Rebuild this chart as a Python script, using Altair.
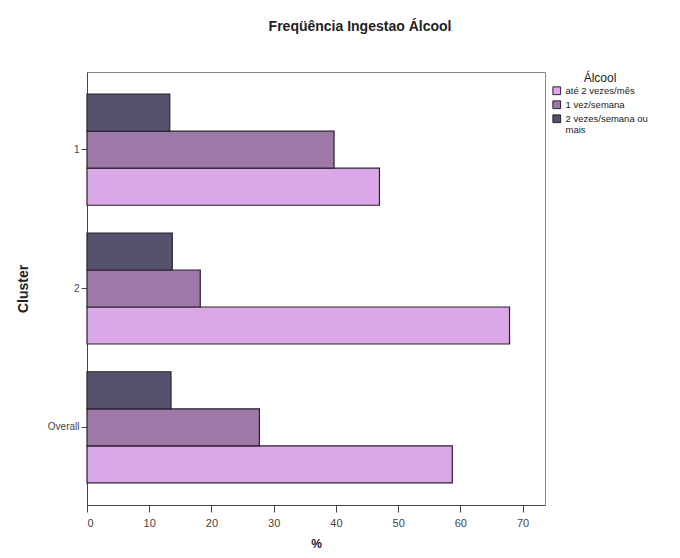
import altair as alt
import pandas as pd

clusters = ["1", "2", "Overall"]
series = ["até 2 vezes/mês", "1 vez/semana", "2 vezes/semana ou mais"]
v_ate2 = [47.0, 67.9, 58.7]
v_1vez = [39.7, 18.2, 27.7]
v_2vez = [13.3, 13.7, 13.5]
colors = ["#daa8e6", "#9e78a6", "#56526e"]

rows = []
for i, c in enumerate(clusters):
    for s, vals in zip(series, [v_ate2, v_1vez, v_2vez]):
        rows.append({"Cluster": c, "Álcool": s, "pct": vals[i]})
df = pd.DataFrame(rows)

stack_order = ["2 vezes/semana ou mais", "1 vez/semana", "até 2 vezes/mês"]

chart = alt.Chart(df).mark_bar(
    stroke="#2a1f2e", strokeWidth=1.2
).encode(
    y=alt.Y("Cluster:N", sort=clusters,
            scale=alt.Scale(paddingInner=0.2, paddingOuter=0.16),
            axis=alt.Axis(title="Cluster", titleFont="Liberation Sans", titleFontSize=14,
                          titleFontWeight="bold", titleColor="#222", titlePadding=17,
                          labelFont="Liberation Sans", labelFontSize=10, labelColor="#444",
                          tickColor="#444", domainColor="#444", tickSize=6, labelPadding=2)),
    yOffset=alt.YOffset("Álcool:N", sort=stack_order,
                        scale=alt.Scale(paddingInner=0, paddingOuter=0)),
    x=alt.X("pct:Q", scale=alt.Scale(domain=[0, 73.6], nice=False),
            axis=alt.Axis(title="%", values=[0, 10, 20, 30, 40, 50, 60, 70],
                          titleFont="Liberation Sans", titleFontSize=12, titleFontWeight="bold",
                          titleColor="#222", titlePadding=10,
                          labelFont="Liberation Sans", labelFontSize=11, labelColor="#444",
                          tickColor="#444", domainColor="#444", tickSize=7, labelPadding=5,
                          grid=False)),
    color=alt.Color("Álcool:N", sort=series,
                    scale=alt.Scale(domain=series, range=colors),
                    legend=alt.Legend(title="Álcool", orient="none", legendX=465, legendY=1,
                                      titleFont="Liberation Sans", titleFontSize=12,
                                      titleFontWeight="normal", titleColor="#222",
                                      titleAnchor="middle", titlePadding=1,
                                      labelFont="Liberation Sans", labelFontSize=9.5,
                                      labelColor="#222", labelLimit=90,
                                      symbolType="square", symbolSize=60,
                                      symbolStrokeColor="#2a1f2e", symbolStrokeWidth=1,
                                      rowPadding=1, labelExpr="datum.label == '2 vezes/semana ou mais' ? ['2 vezes/semana ou', 'mais'] : datum.label")),
).properties(
    width=458, height=433,
    title=alt.TitleParams("Freqüência Ingestao Álcool", font="Liberation Sans", fontSize=14,
                          fontWeight="bold", color="#222", anchor="middle", offset=38, dx=44),
    autosize=alt.AutoSizeParams(type="none"),
    padding={"left": 79, "top": 64, "right": 127, "bottom": 50},
).configure_view(stroke="#888", strokeWidth=1)

chart.save("out.html", embed_options={"renderer": "svg", "actions": False})
